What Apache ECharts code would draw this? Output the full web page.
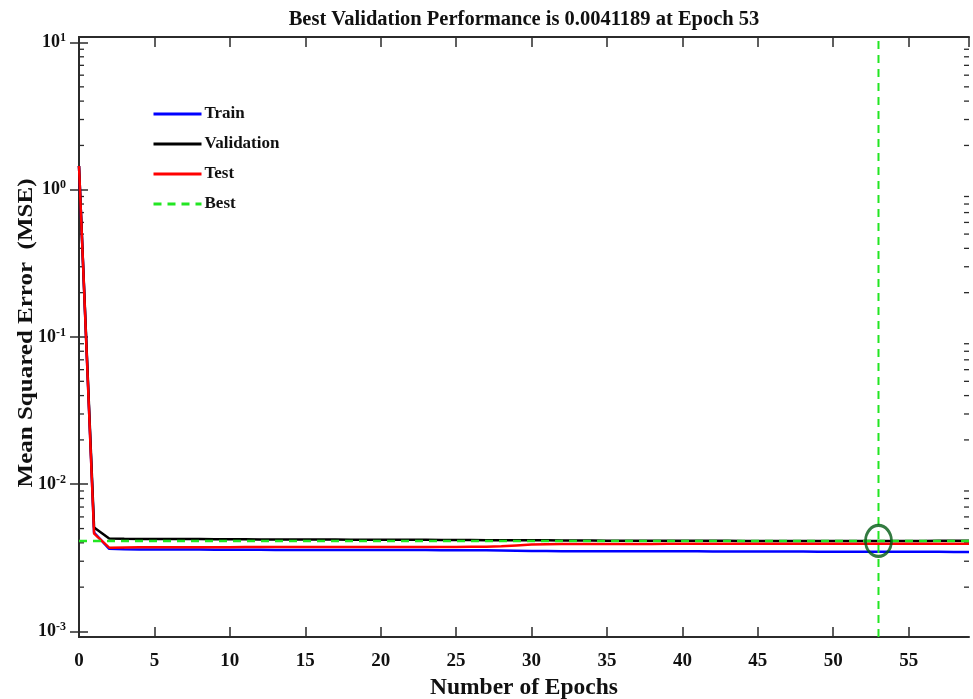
<!DOCTYPE html>
<html>
<head>
<meta charset="utf-8">
<script src="https://cdn.jsdelivr.net/npm/echarts@6/dist/echarts.min.js"></script>
<style>html,body{margin:0;padding:0;background:#fff}#c{width:973px;height:699px}</style>
</head>
<body>
<div id="c"></div>
<script>
var epochs = [0,1,2,3,4,5,6,7,8,9,10,11,12,13,14,15,16,17,18,19,20,21,22,23,24,25,26,27,28,29,30,31,32,33,34,35,36,37,38,39,40,41,42,43,44,45,46,47,48,49,50,51,52,53,54,55,56,57,58,59];
var trainMSE = [1.45,0.0047,0.00364,0.00362,0.00361,0.00361,0.0036,0.0036,0.0036,0.00359,0.00359,0.00359,0.00359,0.00358,0.00358,0.00358,0.00358,0.00358,0.00357,0.00357,0.00357,0.00357,0.00357,0.00357,0.00356,0.00356,0.00356,0.00356,0.00355,0.00354,0.00352,0.00352,0.00351,0.00351,0.00351,0.00351,0.0035,0.0035,0.0035,0.0035,0.0035,0.0035,0.00349,0.00349,0.00349,0.00349,0.00349,0.00349,0.00349,0.00348,0.00348,0.00348,0.00348,0.00348,0.00348,0.00348,0.00348,0.00348,0.00347,0.00347];
var validationMSE = [1.45,0.00508,0.00428,0.00426,0.00425,0.00425,0.00424,0.00424,0.00424,0.00423,0.00423,0.00423,0.00422,0.00422,0.00422,0.00421,0.00421,0.00421,0.0042,0.0042,0.0042,0.00419,0.00419,0.00419,0.00418,0.00418,0.00418,0.00417,0.00417,0.00416,0.00416,0.00416,0.00415,0.00415,0.00415,0.00414,0.00414,0.00414,0.00414,0.00413,0.00413,0.00413,0.00413,0.00413,0.00412,0.00412,0.00412,0.00412,0.00412,0.00412,0.00412,0.00412,0.00412,0.0041189,0.00412,0.00412,0.00412,0.00413,0.00413,0.00413];
var testMSE = [1.45,0.00462,0.00371,0.00372,0.00373,0.00374,0.00374,0.00374,0.00374,0.00374,0.00374,0.00375,0.00375,0.00375,0.00375,0.00375,0.00375,0.00375,0.00375,0.00375,0.00375,0.00375,0.00375,0.00375,0.00375,0.00375,0.00376,0.00376,0.00379,0.00384,0.00389,0.00391,0.00392,0.00393,0.00393,0.00393,0.00393,0.00393,0.00393,0.00394,0.00394,0.00394,0.00394,0.00394,0.00394,0.00394,0.00394,0.00394,0.00394,0.00395,0.00395,0.00395,0.00395,0.00395,0.00395,0.00395,0.00395,0.00395,0.00395,0.00395];
var bestEpoch = 53;
var bestValue = 0.0041189;
var xRange = [0, 59];
var yDecades = [0.001, 0.01, 0.1, 1, 10];
var yPad = 0.0375; // fraction of a decade the frame extends beyond 10^-3 and 10^1
var yRange = [yDecades[0] / Math.pow(10, yPad), yDecades[yDecades.length - 1] * Math.pow(10, yPad)];
var yMinorTicks = [0.002,0.003,0.004,0.005,0.006,0.007,0.008,0.009,0.02,0.03,0.04,0.05,0.06,0.07,0.08,0.09,0.2,0.3,0.4,0.5,0.6,0.7,0.8,0.9,2,3,4,5,6,7,8,9];
var titleText = 'Best Validation Performance is 0.0041189 at Epoch 53';
var xName = 'Number of Epochs';
var yName = 'Mean Squared Error  (MSE)';

function pairs(xs, ys){ return xs.map(function(x,i){ return [x, ys[i]]; }); }

var serif = '"Liberation Serif","Times New Roman",serif';
var axisColor = '#2b2b2b';
var chart = echarts.init(document.getElementById('c'), null, {renderer:'canvas'});

var option = {
  animation: false,
  backgroundColor: '#fff',
  title: {
    text: titleText,
    left: 519, top: 4, textAlign: 'center',
    textStyle: {fontFamily: serif, fontWeight: 'bold', fontSize: 20.5, color: '#111'}
  },
  graphic: [{
    type: 'text', x: 27, y: 333, rotation: Math.PI / 2, scaleX: 1.22,
    style: {text: yName, fontFamily: serif, fontWeight: 'bold', fontSize: 20.5, fill: '#111',
      align: 'center', verticalAlign: 'middle'}
  }],
  legend: {
    data: ['Train','Validation','Test','Best'],
    orient: 'vertical', left: 152, top: 105, padding: 0,
    itemWidth: 48, itemHeight: 14, itemGap: 12,
    itemStyle: {opacity: 0},
    lineStyle: {width: 3},
    textStyle: {fontFamily: serif, fontWeight: 'bold', fontSize: 17, lineHeight: 18, color: '#111', padding: [0,0,0,-2]},
    selectedMode: false
  },
  grid: {left: 79, right: 4, top: 37, bottom: 62, containLabel: false, outerBoundsMode: 'none'},
  xAxis: [{
    type: 'value', min: xRange[0], max: xRange[1], interval: 5,
    name: xName, nameLocation: 'middle', nameGap: 39,
    nameTextStyle: {fontFamily: serif, fontWeight: 'bold', fontSize: 23.5, color: '#111'},
    axisLine: {show: true, onZero: false, lineStyle: {color: axisColor, width: 2}},
    axisTick: {show: true, inside: true, length: 10, lineStyle: {color: axisColor, width: 1.5}},
    axisLabel: {showMaxLabel: false, margin: 15, fontFamily: serif, fontWeight: 'bold', fontSize: 19, color: '#111'},
    splitLine: {show: false}
  },{
    type: 'value', position: 'top', min: xRange[0], max: xRange[1], interval: 5,
    axisLine: {show: true, onZero: false, lineStyle: {color: axisColor, width: 2}},
    axisTick: {show: true, inside: true, length: 10, lineStyle: {color: axisColor, width: 1.5}},
    axisLabel: {show: false}, splitLine: {show: false}
  }],
  yAxis: [{
    type: 'log', logBase: 10, min: yRange[0], max: yRange[1],
    axisLine: {show: true, lineStyle: {color: axisColor, width: 2}},
    axisTick: {show: true, inside: true, length: 9, lineStyle: {color: axisColor, width: 1.5},
      customValues: yDecades},
    axisLabel: {
      margin: 13,
      customValues: yDecades,
      formatter: function(v){ var e = Math.round(Math.log10(v)); return '{b|10}{s|' + e + '}'; },
      rich: {
        b: {fontFamily: serif, fontWeight: 'bold', fontSize: 18, color: '#111'},
        s: {fontFamily: serif, fontWeight: 'bold', fontSize: 12, color: '#111', padding: [0,0,9,0]}
      }
    },
    splitLine: {show: false}
  },{
    type: 'log', logBase: 10, min: yRange[0], max: yRange[1], position: 'right',
    axisLine: {show: true, lineStyle: {color: axisColor, width: 2}},
    axisTick: {show: true, inside: true, length: 9, lineStyle: {color: axisColor, width: 1.5},
      customValues: yDecades},
    axisLabel: {show: false, customValues: yDecades}, splitLine: {show: false}
  }],
  series: [
    {
      name: 'minorTicks', type: 'custom', xAxisIndex: 0, yAxisIndex: 0, silent: true, clip: false,
      data: yMinorTicks.map(function(v){ return [xRange[0], v]; }),
      renderItem: function(params, api){
        var l = api.coord([xRange[0], api.value(1)]);
        var r = api.coord([xRange[1], api.value(1)]);
        var st = {stroke: axisColor, lineWidth: 1.3};
        return {type: 'group', children: [
          {type: 'line', shape: {x1: l[0], y1: l[1], x2: l[0] + 5, y2: l[1]}, style: st},
          {type: 'line', shape: {x1: r[0], y1: r[1], x2: r[0] - 5, y2: r[1]}, style: st}
        ]};
      },
      z: 1
    },
    {name: 'Train', type: 'line', data: pairs(epochs, trainMSE), showSymbol: false, symbol: 'none',
      lineStyle: {color: '#0000ff', width: 2.5}, itemStyle: {color: '#0000ff'}, z: 3},
    {name: 'Validation', type: 'line', data: pairs(epochs, validationMSE), showSymbol: false, symbol: 'none',
      lineStyle: {color: '#000000', width: 2.5}, itemStyle: {color: '#000000'}, z: 4},
    {name: 'Test', type: 'line', data: pairs(epochs, testMSE), showSymbol: false, symbol: 'none',
      lineStyle: {color: '#ff0000', width: 2.5}, itemStyle: {color: '#ff0000'}, z: 5},
    {name: 'Best', type: 'line', data: [[xRange[0], bestValue],[xRange[1], bestValue]], showSymbol: false, symbol: 'none',
      lineStyle: {color: '#22e622', width: 2.5, type: [8,6]}, itemStyle: {color: '#22e622'}, z: 6},
    {name: 'Best', type: 'line', data: [[bestEpoch, yRange[0]],[bestEpoch, yRange[1]]], showSymbol: false, symbol: 'none',
      lineStyle: {color: '#22e622', width: 2, type: [8,6]}, itemStyle: {color: '#22e622'}, z: 6},
    {name: 'bestPoint', type: 'scatter', data: [[bestEpoch, bestValue]], symbol: 'circle', symbolSize: [26,31],
      itemStyle: {color: 'rgba(0,0,0,0)', borderColor: '#005a12', borderWidth: 3}, z: 7, silent: true}
  ]
};
chart.setOption(option);
</script>
</body>
</html>
